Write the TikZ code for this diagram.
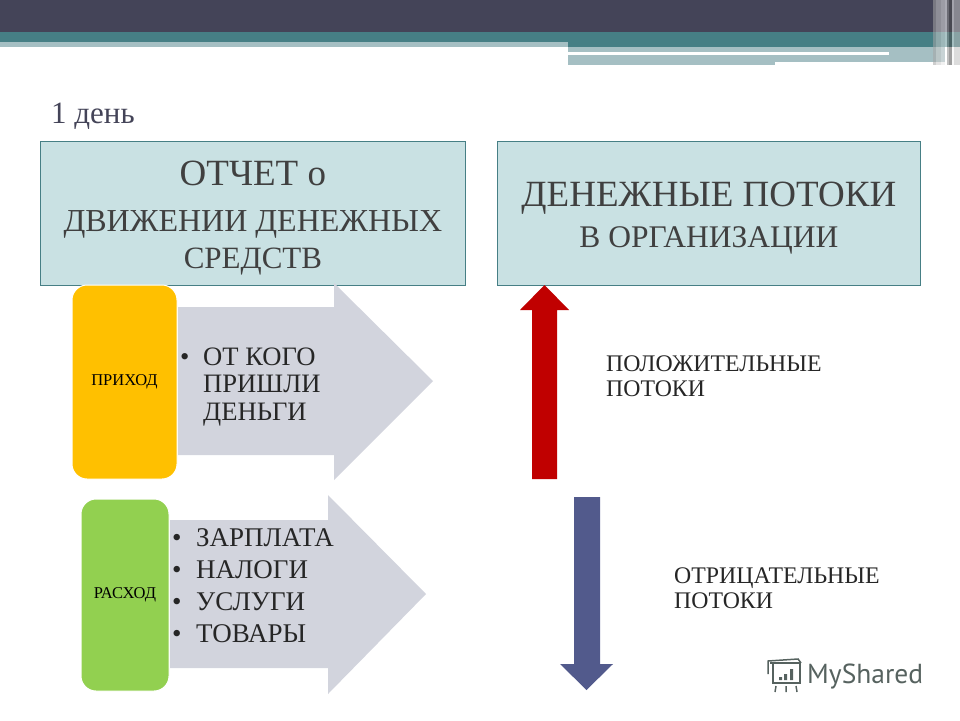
\documentclass[tikz,border=0pt]{standalone}
\usepackage{fontspec}
\setmainfont{Liberation Serif}
\newfontfamily\logofont{PT Sans}
\usetikzlibrary{positioning, calc}

\definecolor{darkband}{HTML}{444458}
\definecolor{tealband}{HTML}{467F85}
\definecolor{lightband}{HTML}{A5BFC3}
\definecolor{paleteal}{HTML}{C9E1E3}
\definecolor{palearrow}{HTML}{D2D4DD}
\definecolor{income}{HTML}{FFC000}
\definecolor{expense}{HTML}{92D050}
\definecolor{uparrow}{HTML}{C00000}
\definecolor{downarrow}{HTML}{525A8C}
\definecolor{logogray}{HTML}{56625F}

\newcommand\pxfont[2]{\fontsize{#1}{#2}\selectfont}

\tikzset{
  headbox/.style={draw=tealband, line width=0.8pt, fill=paleteal, text=black!75, align=center,
    minimum height=144, inner sep=0pt, anchor=north west},
  sidebox/.style={fill=#1, draw=white, line width=1pt, rounded corners=15, inner sep=0pt,
    anchor=north west, font=\pxfont{16.5}{18}},
  plain/.style={inner sep=0pt, align=left, text=black!85},
}

\begin{document}
\begin{tikzpicture}[x=1pt, y=-1pt]
  \useasboundingbox (0, 0) rectangle (960, 720);

  % top bands
  \fill[darkband] (0, 0) rectangle (960, 32);
  \fill[tealband] (0, 32) rectangle (960, 47);
  \fill[lightband] (0, 42) rectangle (568, 47);
  \fill[lightband] (568, 47) rectangle (945, 62);
  \fill[lightband] (568, 62) rectangle (775, 65);
  \fill[white] (568, 52) rectangle (889, 55);
  % stripes at the right
  \foreach \xa/\xb/\shade in {933/936/65, 936/941/80, 941/945/90, 945/947/100, 947/949/55, 949/952/30, 952/954/95, 954/960/75}
    \fill[white!\shade!black, opacity=0.55] (\xa, 0) rectangle (\xb, 65);

  % title
  \node[plain, anchor=base west, text=darkband, font=\pxfont{31}{34}] (title) at (51, 123) {1 день};

  % header boxes
  \node[headbox, minimum width=425, font=\pxfont{31}{37}] (report) at (40, 141) {%
    \pxfont{37}{45}\rule{0pt}{34pt}ОТЧЕТ о\\[9pt]
    \pxfont{32}{37}ДВИЖЕНИИ ДЕНЕЖНЫХ\\
    \pxfont{31}{37}СРЕДСТВ};
  \node[headbox, minimum width=423, font=\pxfont{31}{41}] (flows) at (497, 141) {%
    \pxfont{37}{41}\rule{0pt}{34.5pt}ДЕНЕЖНЫЕ ПОТОКИ\\
    \pxfont{31.5}{41}В ОРГАНИЗАЦИИ};

  % income
  \fill[palearrow] (178, 307) -- (334, 307) -- (334, 283) -- (433, 381) -- (334, 480)
    -- (334, 455) -- (178, 455) -- cycle;
  \node[sidebox=income, minimum width=105, minimum height=194] (income) at (71.5, 284.5) {ПРИХОД};
  \node[plain, anchor=west, font=\pxfont{26.6}{27.5}] (incometext) at (180, 387) {%
    \begin{tabular}{@{}l@{\hspace{13.7pt}}l@{}}
      • & ОТ КОГО\\
        & ПРИШЛИ\\
        & ДЕНЬГИ
    \end{tabular}};

  % expense
  \fill[palearrow] (170, 520) -- (328, 520) -- (328, 495) -- (426, 594) -- (328, 694)
    -- (328, 668) -- (170, 668) -- cycle;
  \node[sidebox=expense, minimum width=88, minimum height=192] (expense) at (80.5, 498.5) {РАСХОД};
  \node[plain, anchor=west, font=\pxfont{27}{32}] (expensetext) at (172, 588) {%
    \begin{tabular}{@{}l@{\hspace{14.5pt}}l@{}}
      • & ЗАРПЛАТА\\
      • & НАЛОГИ\\
      • & УСЛУГИ\\
      • & ТОВАРЫ
    \end{tabular}};

  % flow arrows
  \fill[uparrow] (532, 479) -- (532, 310) -- (520, 310) -- (544.5, 285) -- (569, 310)
    -- (557, 310) -- (557, 479) -- cycle;
  \fill[downarrow] (574, 497) -- (600, 497) -- (600, 664) -- (613, 664) -- (586.5, 690)
    -- (560, 664) -- (574, 664) -- cycle;

  \node[plain, anchor=north west, font=\pxfont{23.8}{25}] (positive) at (606, 356) {ПОЛОЖИТЕЛЬНЫЕ\\ПОТОКИ};
  \node[plain, anchor=north west, font=\pxfont{23.8}{25}] (negative) at (674, 568) {ОТРИЦАТЕЛЬНЫЕ\\ПОТОКИ};

  % logo
  \node[plain, anchor=base west, text=logogray, font={\logofont\pxfont{27.5}{30}}] (logotext) at (807, 683) {MyShared};
  \begin{scope}[logogray, line width=1.5pt]
    \draw (770, 663) -- (800, 663) -- (800, 683) -- (773, 683) -- (773, 663);
    \draw (768, 674) -- (768, 661) -- (798, 659) -- (801, 663);
    \draw (776, 686) -- (775, 692) (786, 686) -- (786, 692) (796, 686) -- (797, 692);
    \fill (779, 677) rectangle (782, 680) (784, 674) rectangle (787, 680) (790, 669) rectangle (793, 680);
  \end{scope}
\end{tikzpicture}
\end{document}
